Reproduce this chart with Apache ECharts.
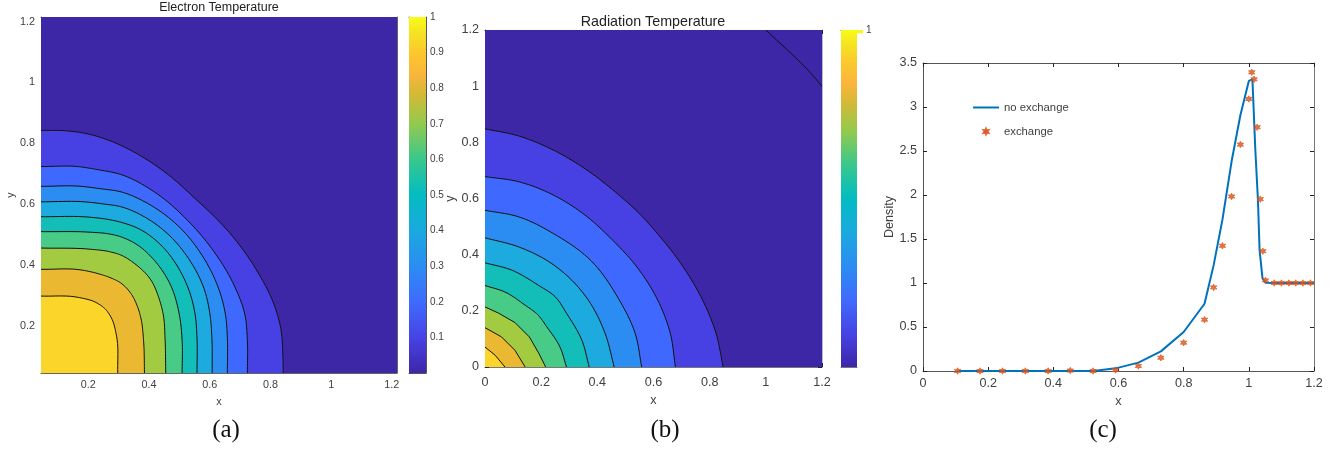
<!DOCTYPE html>
<html><head><meta charset="utf-8">
<style>html,body{margin:0;padding:0;background:#fff}#c{width:1344px;height:450px}</style>
<script src="https://cdn.jsdelivr.net/npm/echarts@6/dist/echarts.min.js"></script></head>
<body><div id="c"></div>
<script>
// Filled contour band colours (outer to inner)
const bandColors = ['#4741e3','#3f69fe','#2b8df2','#1caadf','#13bdb8','#47cb86','#a3cb42','#ebb831','#fcd52a'];
const baseColor = '#3d27a7';
// Colour bar stops
const colorbarStops = [[0,'#3e26a8'],[0.1,'#4743e6'],[0.2,'#3f6bfd'],[0.3,'#2b8df2'],[0.4,'#1aa9df'],[0.5,'#03bcc2'],[0.6,'#38c88c'],[0.7,'#93ca4e'],[0.78,'#d0ba36'],[0.84,'#fab53c'],[0.9,'#fcc72e'],[0.95,'#f5e023'],[1,'#f9fb15']];
// Electron temperature contours
const electronContours = [
 [[.044,.842],[.121,.841],[.191,.832],[.279,.805],[.366,.762],[.465,.695],[.545,.624],[.642,.531],[.698,.465],[.764,.366],[.808,.279],[.834,.191],[.841,.1],[.842,.044]],
 [[.044,.723],[.165,.723],[.23,.713],[.307,.697],[.417,.64],[.526,.547],[.614,.443],[.68,.333],[.716,.235],[.724,.15],[.724,.044]],
 [[.044,.658],[.176,.658],[.241,.65],[.307,.64],[.395,.602],[.504,.52],[.581,.421],[.625,.333],[.652,.235],[.658,.16],[.658,.044]],
 [[.044,.607],[.187,.607],[.25,.6],[.307,.591],[.384,.558],[.46,.503],[.537,.41],[.581,.322],[.601,.235],[.607,.16],[.608,.044]],
 [[.044,.558],[.198,.557],[.26,.55],[.307,.54],[.373,.515],[.439,.465],[.504,.377],[.537,.30],[.552,.235],[.558,.16],[.558,.044]],
 [[.044,.509],[.208,.507],[.265,.502],[.307,.492],[.362,.465],[.417,.415],[.471,.333],[.5,.235],[.509,.15],[.509,.044]],
 [[.044,.455],[.208,.451],[.27,.443],[.307,.432],[.351,.405],[.406,.35],[.433,.289],[.447,.235],[.453,.15],[.455,.044]],
 [[.044,.385],[.176,.383],[.235,.37],[.271,.358],[.307,.34],[.34,.306],[.362,.262],[.373,.225],[.382,.15],[.385,.044]],
 [[.044,.297],[.165,.293],[.225,.276],[.255,.255],[.276,.225],[.293,.165],[.297,.044]]
];
// Radiation temperature contours
const radiationContours = [
 [[0,.848],[.119,.823],[.238,.775],[.356,.706],[.475,.614],[.548,.548],[.614,.475],[.706,.356],[.775,.238],[.823,.119],[.848,0]],
 [[0,.678],[.119,.66],[.238,.615],[.356,.541],[.453,.453],[.541,.356],[.615,.238],[.66,.119],[.678,0]],
 [[0,.558],[.119,.535],[.244,.475],[.378,.378],[.475,.244],[.535,.119],[.558,0]],
 [[0,.46],[.119,.428],[.238,.368],[.309,.309],[.368,.238],[.428,.119],[.46,0]],
 [[0,.371],[.095,.345],[.19,.291],[.25,.25],[.291,.19],[.345,.095],[.371,0]],
 [[0,.29],[.071,.267],[.143,.22],[.187,.187],[.22,.143],[.267,.071],[.29,0]],
 [[0,.214],[.048,.192],[.107,.158],[.158,.107],[.192,.048],[.216,0]],
 [[0,.14],[.059,.107],[.107,.059],[.143,0]],
 [[0,.071],[.036,.042],[.071,0]]
];
const radiationCorner = [[1.0,1.2],[1.07,1.135],[1.14,1.068],[1.2,1.0]];
// Density lines
const noExchangeX = [.106,.175,.244,.314,.384,.452,.523,.591,.661,.73,.80,.864,.892,.919,.947,.974,1.0,1.005,1.011,1.02,1.028,1.033,1.042,1.052,1.078,1.10,1.123,1.144,1.166,1.2];
const noExchangeY = [0,0,0,0,0,0,0,.03,.095,.223,.443,.764,1.203,1.72,2.38,2.906,3.296,3.314,3.314,2.508,1.94,1.373,1.052,1.002,1,1,1,1,1,1];
const exchangeX = [.106,.175,.244,.314,.384,.452,.522,.591,.661,.73,.80,.864,.892,.919,.947,.974,1.0,1.009,1.016,1.0255,1.035,1.043,1.051,1.078,1.10,1.123,1.144,1.166,1.189];
const exchangeY = [0,0,0,0,0,.005,0,.011,.057,.151,.322,.583,.95,1.423,1.983,2.573,3.091,3.394,3.315,2.77,1.953,1.362,1.03,1,1,1,1,1,1];
// Ticks
const ticksA = [.2,.4,.6,.8,1,1.2];
const ticksB = [0,.2,.4,.6,.8,1,1.2];
const ticksCX = [0,.2,.4,.6,.8,1,1.2];
const ticksCY = [0,.5,1,1.5,2,2.5,3,3.5];
const ticksBar = [.1,.2,.3,.4,.5,.6,.7,.8,.9,1];

const FONT = '"Liberation Sans"';
const TXT = '#404040';
const chart = echarts.init(document.getElementById('c'), null, {renderer:'canvas', width:1344, height:450});

// Chord-length cubic Hermite drawing of a contour through its read points
function smoothPath(p){
  const dist=(a,b)=>Math.hypot(a[0]-b[0],a[1]-b[1]);
  const tan=i=>{
    if(i===0){const d=dist(p[0],p[1]);return [(p[1][0]-p[0][0])/d,(p[1][1]-p[0][1])/d];}
    const n=p.length-1;
    if(i===n){const d=dist(p[n],p[n-1]);return [(p[n][0]-p[n-1][0])/d,(p[n][1]-p[n-1][1])/d];}
    const d0=dist(p[i-1],p[i]),d1=dist(p[i],p[i+1]);
    return [0,1].map(j=>((p[i+1][j]-p[i][j])/d1*d0+(p[i][j]-p[i-1][j])/d0*d1)/(d0+d1));
  };
  const out=[];
  for(let i=0;i<p.length-1;i++){
    const h=dist(p[i],p[i+1]),m0=tan(i),m1=tan(i+1);
    for(let k=0;k<10;k++){
      const t=k/10,t2=t*t,t3=t2*t;
      out.push([0,1].map(j=>(2*t3-3*t2+1)*p[i][j]+(t3-2*t2+t)*h*m0[j]+(-2*t3+3*t2)*p[i+1][j]+(t3-t2)*h*m1[j]));
    }
  }
  out.push(p[p.length-1]);return out;
}
const grids=[],xAxes=[],yAxes=[],series=[];
function side(gi,dim,pos,min,max,vals,opt){
  const ax={gridIndex:gi,type:'value',position:pos,min,max,scale:true,splitLine:{show:false},
    axisLine:{show:opt.line!==null,onZero:false,lineStyle:{color:opt.line||'#666',width:opt.lw||1}},
    axisTick:{show:!!vals,customValues:vals||[],inside:opt.outTick?false:true,length:opt.tl||4,lineStyle:{color:'#222',width:1}},
    axisLabel:{show:!!opt.label,customValues:vals||[],color:TXT,fontFamily:FONT,fontSize:opt.fs||11,margin:opt.margin||6,hideOverlap:false,showMinLabel:true,showMaxLabel:true},
  };
  if(opt.name){Object.assign(ax,{name:opt.name,nameLocation:'middle',nameGap:opt.gap,nameTextStyle:{color:TXT,fontFamily:FONT,fontSize:opt.nfs||opt.fs||11}});}
  (dim==='x'?xAxes:yAxes).push(ax);
  return (dim==='x'?xAxes:yAxes).length-1;
}
function panel(box,xr,yr,xt,yt,o){
  const gi=grids.length;
  grids.push({left:box[0],top:box[1],width:box[2],height:box[3],containLabel:false,show:false});
  const xi=side(gi,'x','bottom',xr[0],xr[1],xt,{label:true,fs:o.fs,margin:o.xm,name:'x',gap:o.xg,nfs:o.nfs,line:o.c[2]});
  const yi=side(gi,'y','left',yr[0],yr[1],yt,{label:true,fs:o.fs,margin:o.ym,name:o.yname,gap:o.yg,nfs:o.nfs,line:o.c[0]});
  side(gi,'x','top',xr[0],xr[1],xt,{line:o.c[1]});
  side(gi,'y','right',yr[0],yr[1],yt,{line:o.c[3]});
  return {xi,yi};
}
function contourSeries(ax,contours,corner,xr,yr,smoothFrom,extra){
  series.push({type:'custom',xAxisIndex:ax.xi,yAxisIndex:ax.yi,clip:true,z:1,silent:true,
    data:[[-1,0]].concat(contours.map((c,i)=>[i,0])),
    encode:{x:0,y:1},
    renderItem(params,api){
      const i=api.value(0);
      if(i<0){
        const pts=[[xr[0],yr[0]],[xr[1],yr[0]],[xr[1],yr[1]],[xr[0],yr[1]]].map(p=>api.coord(p));
        return {type:'polygon',shape:{points:pts},style:{fill:baseColor}};
      }
      const arc=(i<smoothFrom?smoothPath(contours[i]):contours[i]);
      const line=arc.map(p=>api.coord(p));
      return {type:'group',children:[
        {type:'polygon',shape:{points:line.concat([api.coord(corner)])},style:{fill:bandColors[i],stroke:null}},
        {type:'polyline',shape:{points:line},style:{fill:null,stroke:'#111',lineWidth:1}}
      ]};
    }});
  if(extra) series.push({type:'line',xAxisIndex:ax.xi,yAxisIndex:ax.yi,data:extra,smooth:0.3,symbol:'none',z:2,silent:true,lineStyle:{color:'#111',width:1}});
}
// Panel (a)
const rangeA=[.044,1.217], rangeAy=[.044,1.215];
const axA=panel([41,17,356,356],rangeA,rangeAy,ticksA,ticksA,{fs:10.8,nfs:10.8,xm:7,ym:6,xg:24,yg:22,yname:'y',c:['#666','#777','#666','#666']});
contourSeries(axA,electronContours,[.044,.044],rangeA,rangeAy,9);
// Panel (b)
const axB=panel([485,30,337,337],[0,1.2],[0,1.2],ticksB,ticksB,{fs:12.6,nfs:12.6,xm:9,ym:6,xg:27,yg:28,yname:'y',c:['#333','#333','#777','#bbb']});
contourSeries(axB,radiationContours,[0,0],[0,1.2],[0,1.2],6,radiationCorner);
// Panel (c)
const axC=panel([923,63,391,308],[0,1.2],[0,3.5],ticksCX,ticksCY,{fs:12.6,nfs:12.6,xm:6,ym:6,xg:24,yg:25,yname:'Density',c:['#555','#555','#555','#777']});
const asterisk='path://M0 -10L2.6 -4.5L8.66 -5L5.2 0L8.66 5L2.6 4.5L0 10L-2.6 4.5L-8.66 5L-5.2 0L-8.66 -5L-2.6 -4.5Z';
series.push({name:'no exchange',type:'line',xAxisIndex:axC.xi,yAxisIndex:axC.yi,data:noExchangeX.map((x,i)=>[x,noExchangeY[i]]),symbol:'none',lineStyle:{color:'#0072bd',width:2},itemStyle:{color:'#0072bd'},z:2});
series.push({name:'exchange',type:'scatter',xAxisIndex:axC.xi,yAxisIndex:axC.yi,data:exchangeX.map((x,i)=>[x,exchangeY[i]]),symbol:asterisk,symbolSize:6.5,itemStyle:{color:'#d95319',borderColor:'#d95319',borderWidth:0.8},z:3});
// Colour bars
function colorbar(box,ticks,fs,strip){
  const gi=grids.length;
  grids.push({left:box[0],top:box[1],width:box[2],height:box[3],show:false});
  const xi=side(gi,'x','bottom',0,1,null,{line:strip?'#777':'#555'});
  const yi=side(gi,'y','right',0,1,ticks,{label:true,fs,margin:strip?9:4,line:strip?null:'#555',outTick:strip,tl:strip?6:4});
  side(gi,'x','top',0,1,null,{line:'#444'});
  side(gi,'y','left',0,1,null,{line:strip?null:'#555'});
  series.push({type:'custom',xAxisIndex:xi,yAxisIndex:yi,clip:false,z:1,silent:true,data:[[0,0]],encode:{x:0,y:1},
    renderItem(params,api){
      const a=api.coord([0,0]),b=api.coord([1,1]);
      const kids=[{type:'rect',shape:{x:a[0],y:b[1],width:b[0]-a[0],height:a[1]-b[1]},
        style:{fill:new echarts.graphic.LinearGradient(0,1,0,0,colorbarStops.map(s=>({offset:s[0],color:s[1]})))}}];
      if(strip){const c=api.coord([1.375,.99]);kids.push({type:'rect',shape:{x:b[0],y:b[1],width:c[0]-b[0],height:c[1]-b[1]},style:{fill:'#f9f520'}});}
      return {type:'group',children:kids};
    }});
}
colorbar([409,17,17,356],ticksBar,10,false);
colorbar([841,30,16,337],[1],10,true);

chart.setOption({
  animation:false,backgroundColor:'#fff',
  grid:grids,xAxis:xAxes,yAxis:yAxes,series,
  title:[
    {text:'Electron Temperature',left:219,top:1,padding:0,textAlign:'center',textStyle:{fontFamily:FONT,fontSize:12.5,fontWeight:'normal',color:'#222'}},
    {text:'Radiation Temperature',left:653,top:15,padding:0,textAlign:'center',textStyle:{fontFamily:FONT,fontSize:14.3,fontWeight:'normal',color:'#222'}}
  ],
  legend:{orient:'vertical',left:973,top:102,itemWidth:26,itemHeight:6,itemGap:13,padding:0,
    data:[{name:'no exchange',icon:'path://M0 0H26V2H0Z'},{name:'exchange',icon:asterisk}],textStyle:{fontFamily:FONT,fontSize:11.3,color:TXT}},
  graphic:[
    {type:'text',x:226,y:418,style:{text:'(a)',fill:'#111',font:'25px "Liberation Serif"',textAlign:'center'}},
    {type:'text',x:665,y:418,style:{text:'(b)',fill:'#111',font:'25px "Liberation Serif"',textAlign:'center'}},
    {type:'text',x:1103,y:418,style:{text:'(c)',fill:'#111',font:'25px "Liberation Serif"',textAlign:'center'}}
  ]
});
</script></body></html>
